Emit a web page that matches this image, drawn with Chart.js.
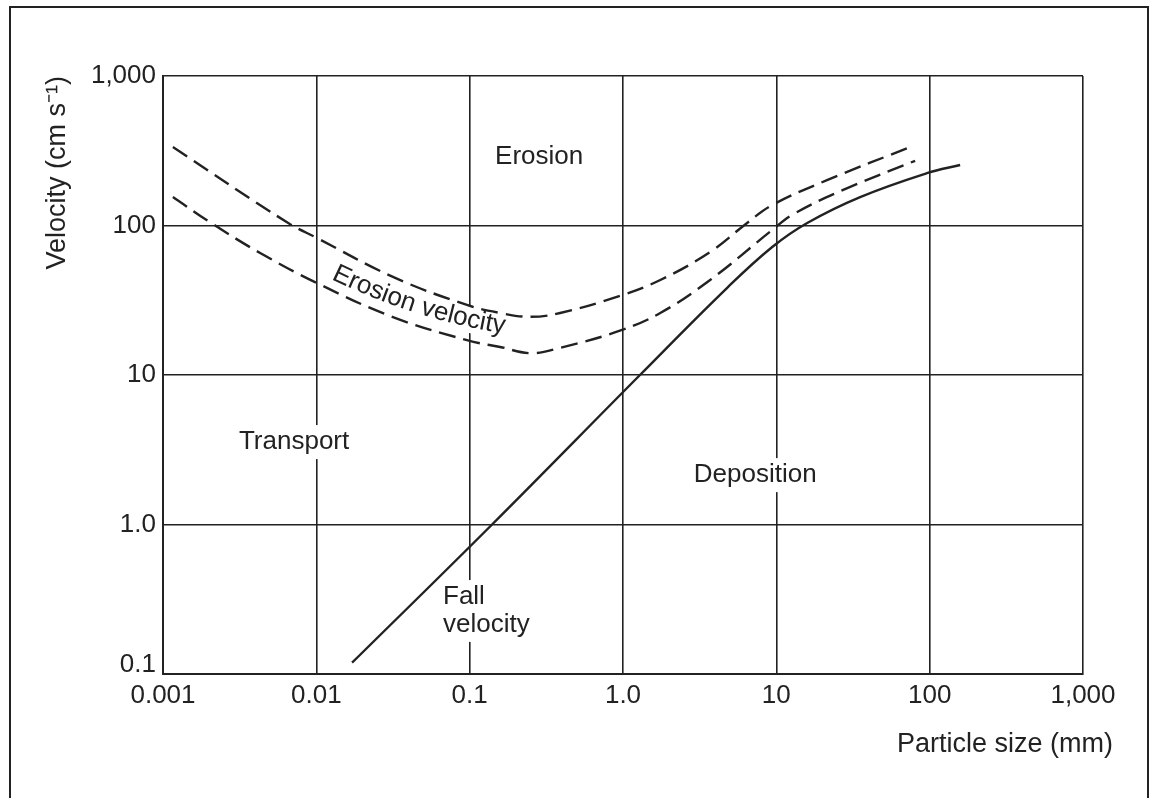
<!DOCTYPE html>
<html>
<head>
<meta charset="utf-8">
<script src="https://cdn.jsdelivr.net/npm/chart.js@4.4.1/dist/chart.umd.min.js"></script>
<style>
  html, body { margin: 0; padding: 0; background: #fff; }
  canvas { display: block; }
</style>
</head>
<body>
<canvas id="hjulstrom" width="1153" height="798"></canvas>
<script>
const FONT = "'Liberation Sans', Arial, Helvetica, sans-serif";
const INK = "#222";

// axis ticks
const sizeTicks = [0.001, 0.01, 0.1, 1, 10, 100, 1000];
const sizeTickLabels = ["0.001", "0.01", "0.1", "1.0", "10", "100", "1,000"];
const velTicks = [0.1, 1, 10, 100, 1000];
const velTickLabels = ["0.1", "1.0", "10", "100", "1,000"];

// upper erosion velocity curve (mm, cm/s)
const upperSize = [0.00116, 0.00644, 0.0101, 0.0316, 0.096, 0.158, 0.25, 0.389, 0.944, 1.75, 3.70, 6.45, 9.4, 21.4, 76.9];
const upperVel  = [335, 105, 82.5, 45.3, 29.4, 26.0, 24.5, 26.0, 33.7, 43.2, 66.5, 104, 137, 201, 339];

// lower erosion velocity curve
const lowerSize = [0.00116, 0.00203, 0.0043, 0.0101, 0.0316, 0.096, 0.158, 0.25, 0.389, 0.944, 1.75, 3.70, 9.4, 12.9, 27.3, 80.4];
const lowerVel  = [155, 105, 65.5, 41.2, 24.4, 17.1, 15.4, 14.0, 15.2, 19.7, 26.0, 43.2, 93.3, 119, 173, 271];

// fall velocity
const fallSize = [0.0171, 0.14, 1.29, 4.78, 9.4, 15.9, 35.2, 96, 158];
const fallVel  = [0.119, 1.0, 10, 38.3, 71.8, 104, 155, 224, 254];

const toPoints = (xs, ys) => xs.map((v, i) => ({ x: v, y: ys[i] }));

// text placed in the plot (data coordinates)
const notes = [
    { text: "Erosion", x: 0.284, y: 287, align: "center" },
    { text: "Transport", x: 0.00716, y: 3.56, align: "center" },
    { text: "Deposition", x: 7.28, y: 2.14, align: "center" },
    { text: "Fall", x: 0.067, y: 0.327, align: "left" },
    { text: "velocity", x: 0.067, y: 0.213, align: "left" }
];
// label bent along the erosion band, starts at its baseline-left point
const curvedLabel = { text: "Erosion velocity", x: 0.01248, y: 43.9, startAngle: 26, endAngle: 9 };

const NOTE_FONT = `26px ${FONT}`;

function curvedLayout(chart) {
    const { ctx, scales: { x, y } } = chart;
    let px = x.getPixelForValue(curvedLabel.x);
    let py = y.getPixelForValue(curvedLabel.y);
    const total = ctx.measureText(curvedLabel.text).width;
    let s = 0;
    const out = [];
    for (const ch of curvedLabel.text) {
        const w = ctx.measureText(ch).width;
        const deg = curvedLabel.startAngle + (curvedLabel.endAngle - curvedLabel.startAngle) * ((s + w / 2) / total);
        const a = deg * Math.PI / 180;
        out.push({ ch, w, a, cx: px + Math.cos(a) * w / 2, cy: py + Math.sin(a) * w / 2 });
        px += Math.cos(a) * w;
        py += Math.sin(a) * w;
        s += w;
    }
    return out;
}

const annotate = {
    id: "annotate",
    beforeDraw(chart) {
        const ctx = chart.ctx;
        ctx.save();
        ctx.fillStyle = "#fff";
        ctx.fillRect(0, 0, chart.width, chart.height);
        ctx.strokeStyle = INK;
        ctx.lineWidth = 2;
        ctx.strokeRect(10, 7, 1138, 840); // outer frame, bottom edge off the page
        ctx.restore();
    },
    beforeDatasetsDraw(chart) {
        // white patches so grid lines break around the words
        const { ctx, scales: { x, y } } = chart;
        ctx.save();
        ctx.font = NOTE_FONT;
        ctx.fillStyle = "#fff";
        notes.forEach(n => {
            const px = x.getPixelForValue(n.x);
            const py = y.getPixelForValue(n.y);
            const w = ctx.measureText(n.text).width;
            const left = n.align === "left" ? px - 4 : px - w / 2 - 4;
            ctx.fillRect(left, py - 17, w + 8, 34);
        });
        curvedLayout(chart).forEach(c => {
            ctx.save();
            ctx.translate(c.cx, c.cy);
            ctx.rotate(c.a);
            ctx.fillRect(-c.w / 2 - 1, -20, c.w + 2, 26);
            ctx.restore();
        });
        ctx.restore();
    },
    afterDatasetsDraw(chart) {
        const { ctx, chartArea, scales: { x, y } } = chart;
        ctx.save();
        ctx.font = NOTE_FONT;
        ctx.fillStyle = INK;
        ctx.textBaseline = "middle";
        notes.forEach(n => {
            ctx.textAlign = n.align;
            ctx.fillText(n.text, x.getPixelForValue(n.x), y.getPixelForValue(n.y));
        });
        ctx.textAlign = "center";
        ctx.textBaseline = "alphabetic";
        curvedLayout(chart).forEach(c => {
            ctx.save();
            ctx.translate(c.cx, c.cy);
            ctx.rotate(c.a);
            ctx.fillText(c.ch, 0, 0);
            ctx.restore();
        });
        // x axis title sits right of the axis end
        ctx.font = `27px ${FONT}`;
        ctx.textAlign = "right";
        ctx.textBaseline = "middle";
        ctx.fillText("Particle size (mm)", chartArea.right + 30, chartArea.bottom + 71);
        ctx.restore();
    }
};

const lineStyle = {
    showLine: true,
    borderColor: INK,
    borderWidth: 2.4,
    pointRadius: 0,
    fill: false,
    tension: 0.4
};

new Chart(document.getElementById("hjulstrom").getContext("2d"), {
    type: "scatter",
    data: {
        datasets: [
            { ...lineStyle, label: "Erosion velocity (upper)", data: toPoints(upperSize, upperVel), borderDash: [17, 8] },
            { ...lineStyle, label: "Erosion velocity (lower)", data: toPoints(lowerSize, lowerVel), borderDash: [17, 8] },
            { ...lineStyle, label: "Fall velocity", data: toPoints(fallSize, fallVel) }
        ]
    },
    options: {
        responsive: false,
        animation: false,
        devicePixelRatio: 1,
        layout: { padding: { top: 76, right: 70, bottom: 84, left: 0 } },
        plugins: {
            legend: { display: false },
            tooltip: { enabled: false }
        },
        scales: {
            x: {
                type: "logarithmic",
                min: 0.001,
                max: 1000,
                afterBuildTicks: scale => { scale.ticks = sizeTicks.map(v => ({ value: v })); },
                afterFit: scale => { scale.height = 40; },
                grid: { color: INK, lineWidth: 1.6, drawTicks: false },
                border: { color: INK, width: 2 },
                ticks: {
                    color: INK,
                    font: { family: FONT, size: 26 },
                    padding: 6,
                    maxRotation: 0,
                    autoSkip: false,
                    callback: (value, index) => sizeTickLabels[index]
                }
            },
            y: {
                type: "logarithmic",
                min: 0.1,
                max: 1000,
                afterBuildTicks: scale => { scale.ticks = velTicks.map(v => ({ value: v })); },
                afterFit: scale => { scale.width = 163; },
                grid: { color: INK, lineWidth: 1.6, drawTicks: false },
                border: { color: INK, width: 2 },
                ticks: {
                    color: INK,
                    font: { family: FONT, size: 26, lineHeight: 0.7 },
                    padding: 7,
                    autoSkip: false,
                    // lift the bottom label clear of the x labels
                    callback: (value, index) => index === 0 ? [velTickLabels[0], ""] : velTickLabels[index]
                },
                title: {
                    display: true,
                    text: "Velocity (cm s\u207B\u00B9)",
                    color: INK,
                    align: "end",
                    font: { family: FONT, size: 27 },
                    padding: { top: 41, bottom: 0 }
                }
            }
        }
    },
    plugins: [annotate]
});
</script>
</body>
</html>
